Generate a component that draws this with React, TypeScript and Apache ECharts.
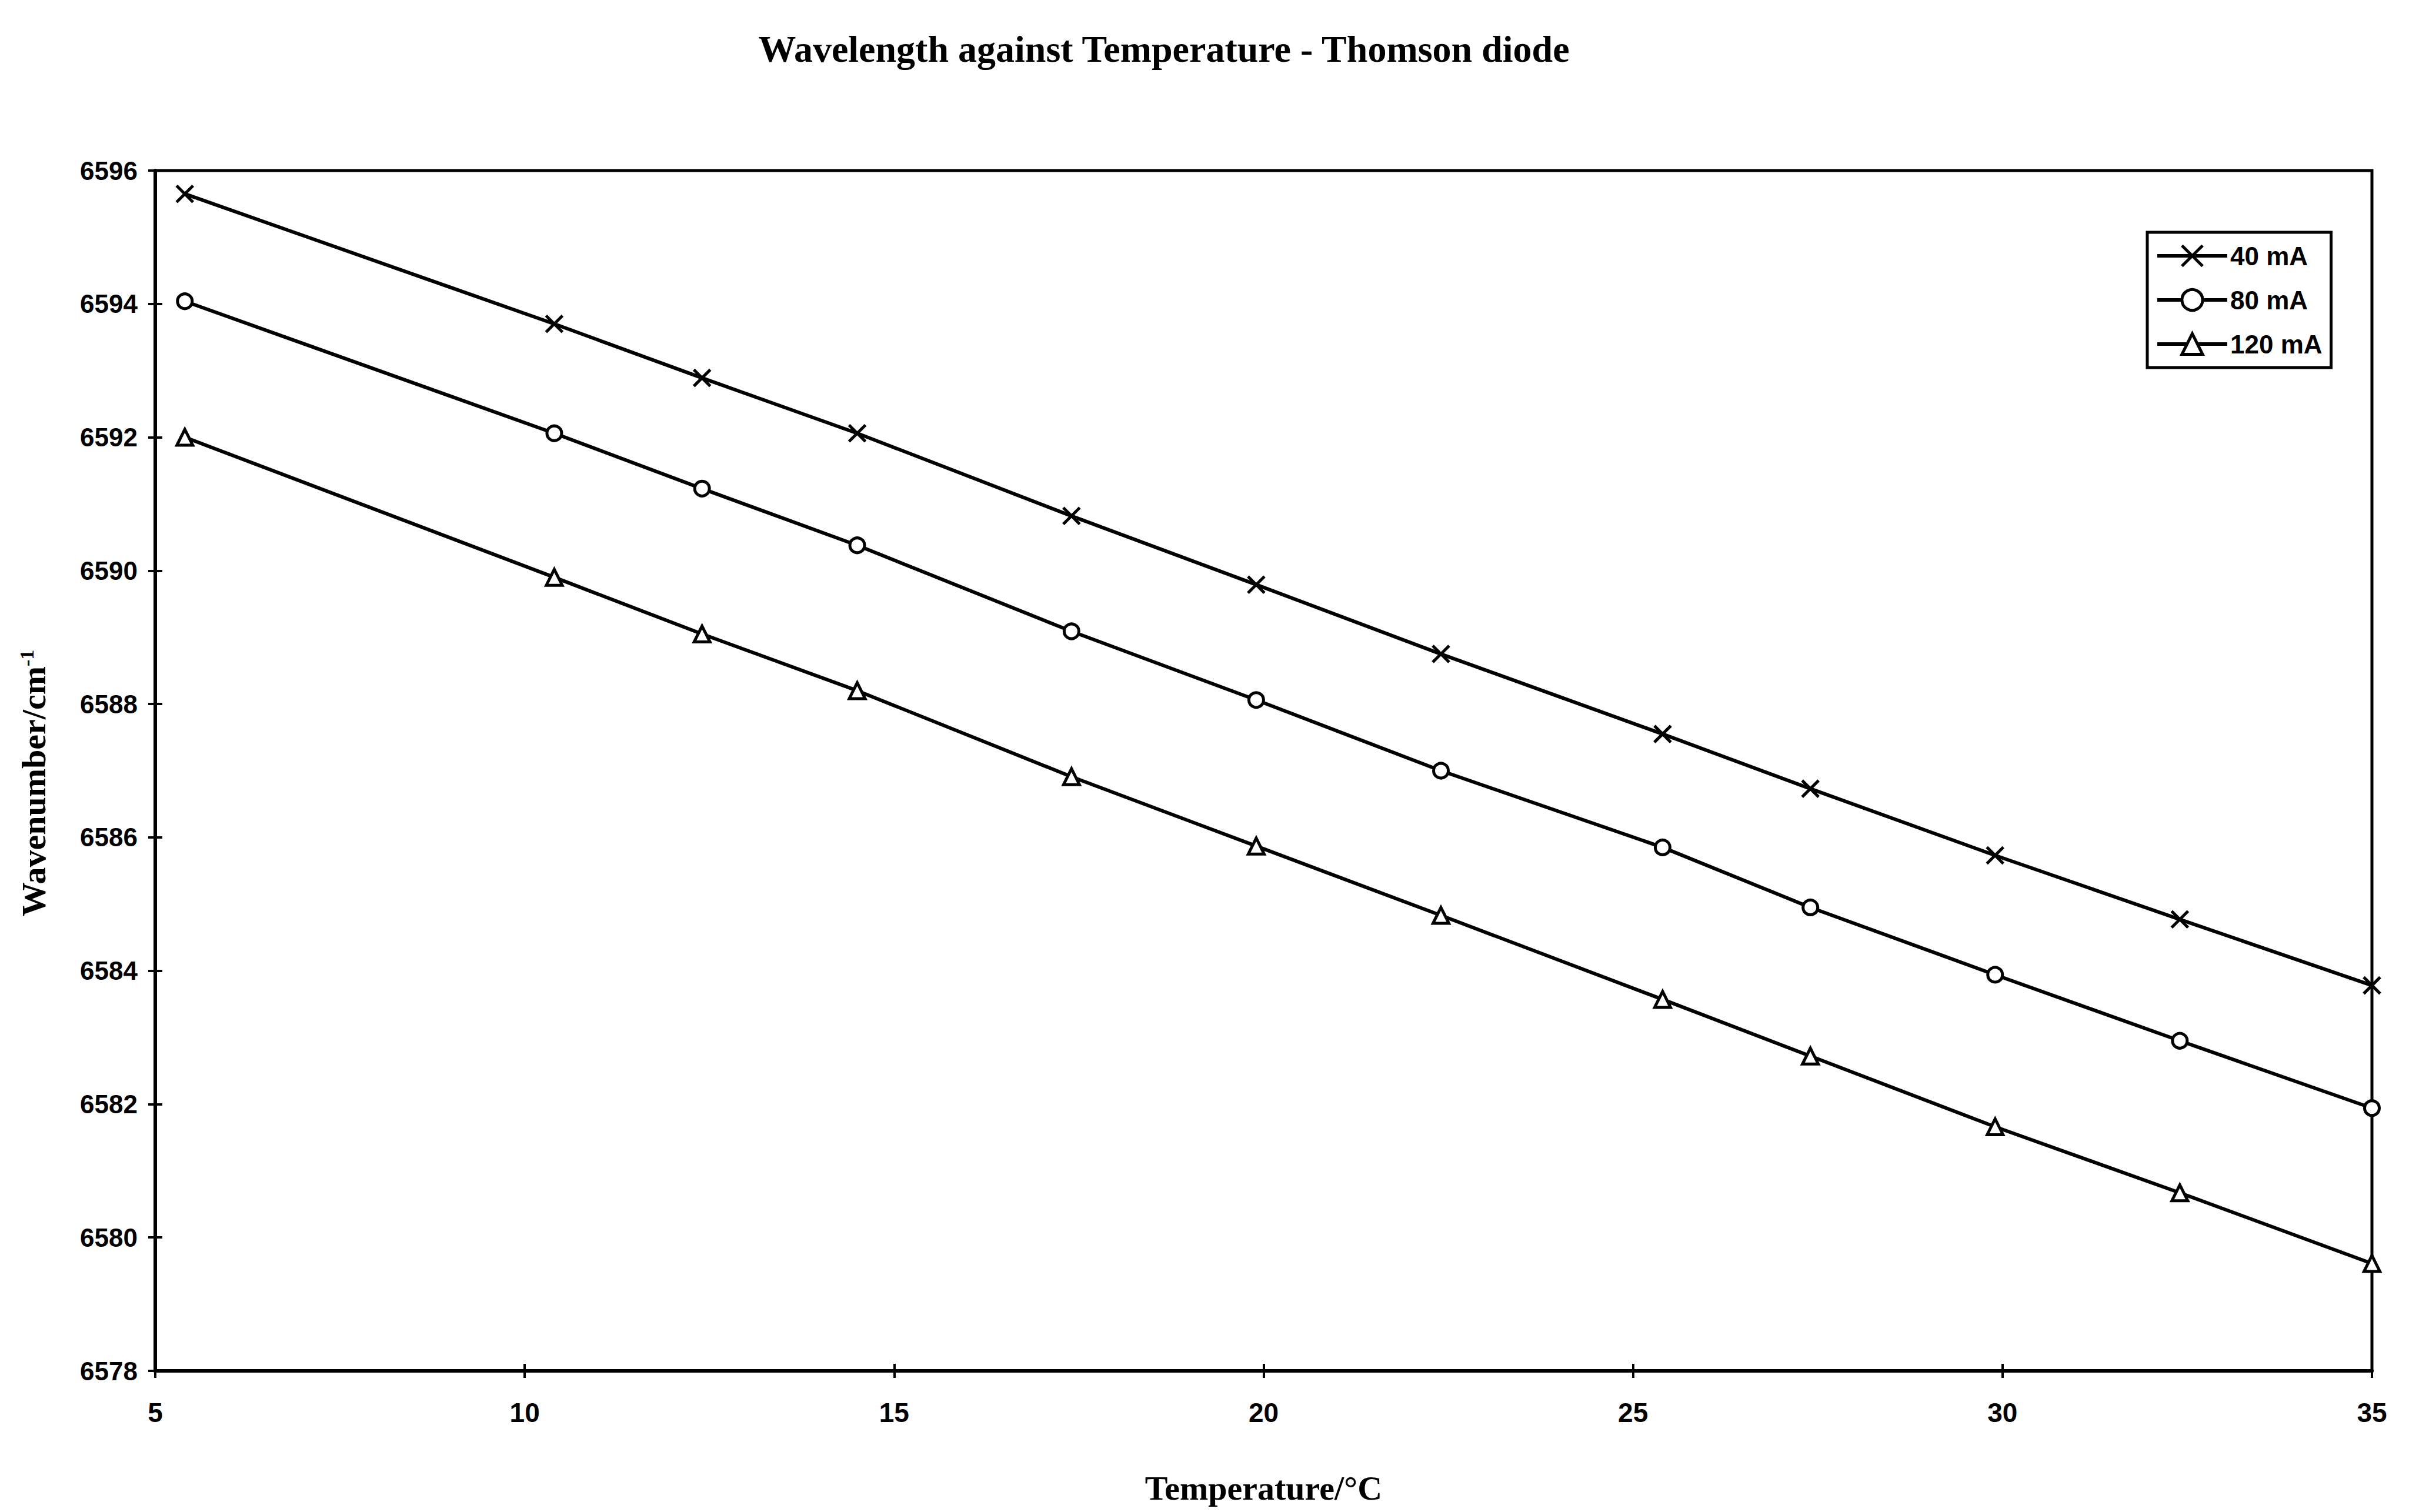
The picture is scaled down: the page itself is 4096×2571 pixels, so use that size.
import React, { useEffect, useRef } from "react";
import * as echarts from "echarts";

const temperatures = [5.4, 10.4, 12.4, 14.5, 17.4, 19.9, 22.4, 25.4, 27.4, 29.9, 32.4, 35];
const series40 = [6595.65, 6593.7, 6592.89, 6592.06, 6590.82, 6589.79, 6588.75, 6587.55, 6586.73, 6585.73, 6584.77, 6583.78];
const series80 = [6594.04, 6592.06, 6591.23, 6590.38, 6589.09, 6588.06, 6587.0, 6585.85, 6584.95, 6583.94, 6582.95, 6581.94];
const series120 = [6592.0, 6589.9, 6589.05, 6588.2, 6586.91, 6585.87, 6584.83, 6583.57, 6582.72, 6581.66, 6580.67, 6579.61];
const seriesNames = ["40 mA", "80 mA", "120 mA"];

const titleText = "Wavelength against Temperature - Thomson diode";
const xName = "Temperature/°C";
const yName = "Wavenumber/cm{sup|-1}";

const SERIF = "'Liberation Serif', 'Times New Roman', serif";
const SANS = "'Liberation Sans', Arial, sans-serif";
const CROSS = "path://M0,0L10,10M10,0L0,10";

function pairs(xs: number[], ys: number[]) {
  return xs.map((x, i) => [x, ys[i]]);
}

export default function App() {
  const ref = useRef<HTMLDivElement>(null);
  useEffect(() => {
    document.body.style.margin = "0";
    const chart = echarts.init(ref.current!, null, { renderer: "svg" });
    const symbols = [CROSS, "circle", "triangle"];
    const values = [series40, series80, series120];
    const sizes = [28, 25, 27];
    chart.setOption({
      animation: false,
      backgroundColor: "#fff",
      title: {
        text: titleText,
        left: 1974,
        top: 46,
        textAlign: "center",
        textStyle: { fontFamily: SERIF, fontWeight: "bold", fontSize: 64, color: "#000" },
      },
      legend: {
        left: 3651,
        top: 395,
        orient: "vertical",
        itemWidth: 119,
        itemHeight: 44,
        itemGap: 31,
        padding: [18, 15, 18, 14],
        borderColor: "#000",
        borderWidth: 5,
        backgroundColor: "#fff",
        lineStyle: { width: 6, color: "#000" },
        itemStyle: { borderWidth: 5, borderColor: "#000", color: "#fff" },
        textStyle: { fontFamily: SANS, fontWeight: "bold", fontSize: 44, color: "#000" },
        data: seriesNames,
      },
      grid: {
        left: 264,
        right: 63,
        top: 290,
        bottom: 240,
        show: true,
        borderColor: "#000",
        borderWidth: 5,
        backgroundColor: "#fff",
      },
      xAxis: [
        {
          type: "value",
          min: 5,
          max: 35,
          interval: 5,
          position: "bottom",
          name: xName,
          nameLocation: "middle",
          nameGap: 170,
          nameTextStyle: { fontFamily: SERIF, fontWeight: "bold", fontSize: 58, color: "#000" },
          axisLine: { show: true, lineStyle: { color: "#000", width: 6 } },
          axisTick: { show: true, inside: false, length: 12, lineStyle: { color: "#000", width: 4 } },
          axisLabel: { fontFamily: SANS, fontWeight: "bold", fontSize: 46, color: "#000", margin: 48 },
          splitLine: { show: false },
        },
        {
          type: "value",
          min: 5,
          max: 35,
          interval: 5,
          position: "bottom",
          axisLine: { show: false },
          axisTick: { show: true, inside: true, length: 12, lineStyle: { color: "#000", width: 4 } },
          axisLabel: { show: false },
          splitLine: { show: false },
        },
      ],
      yAxis: [
        {
          type: "value",
          min: 6578,
          max: 6596,
          interval: 2,
          position: "left",
          name: yName,
          nameLocation: "middle",
          nameRotate: 90,
          nameGap: 178,
          nameTextStyle: {
            fontFamily: SERIF,
            fontWeight: "bold",
            fontSize: 58,
            color: "#000",
            padding: [0, 42, 0, 0],
            rich: {
              sup: { fontFamily: SERIF, fontWeight: "bold", fontSize: 34, verticalAlign: "top", lineHeight: 34, color: "#000" },
            },
          },
          axisLine: { show: true, lineStyle: { color: "#000", width: 6 } },
          axisTick: { show: true, inside: false, length: 12, lineStyle: { color: "#000", width: 4 } },
          axisLabel: {
            fontFamily: SANS,
            fontWeight: "bold",
            fontSize: 44,
            color: "#000",
            margin: 30,
            formatter: (v: number) => String(v),
          },
          splitLine: { show: false },
        },
        {
          type: "value",
          min: 6578,
          max: 6596,
          interval: 2,
          position: "left",
          axisLine: { show: false },
          axisTick: { show: true, inside: true, length: 12, lineStyle: { color: "#000", width: 4 } },
          axisLabel: { show: false },
          splitLine: { show: false },
        },
      ],
      series: seriesNames.map((name, i) => ({
        name,
        type: "line",
        xAxisIndex: 0,
        yAxisIndex: 0,
        data: pairs(temperatures, values[i]),
        symbol: symbols[i],
        symbolSize: sizes[i],
        showAllSymbol: true,
        lineStyle: { color: "#000", width: 6 },
        itemStyle: { color: "#fff", borderColor: "#000", borderWidth: 5 },
        z: 3,
      })),
    });
    return () => chart.dispose();
  }, []);
  return <div ref={ref} style={{ width: 4096, height: 2571 }} />;
}
